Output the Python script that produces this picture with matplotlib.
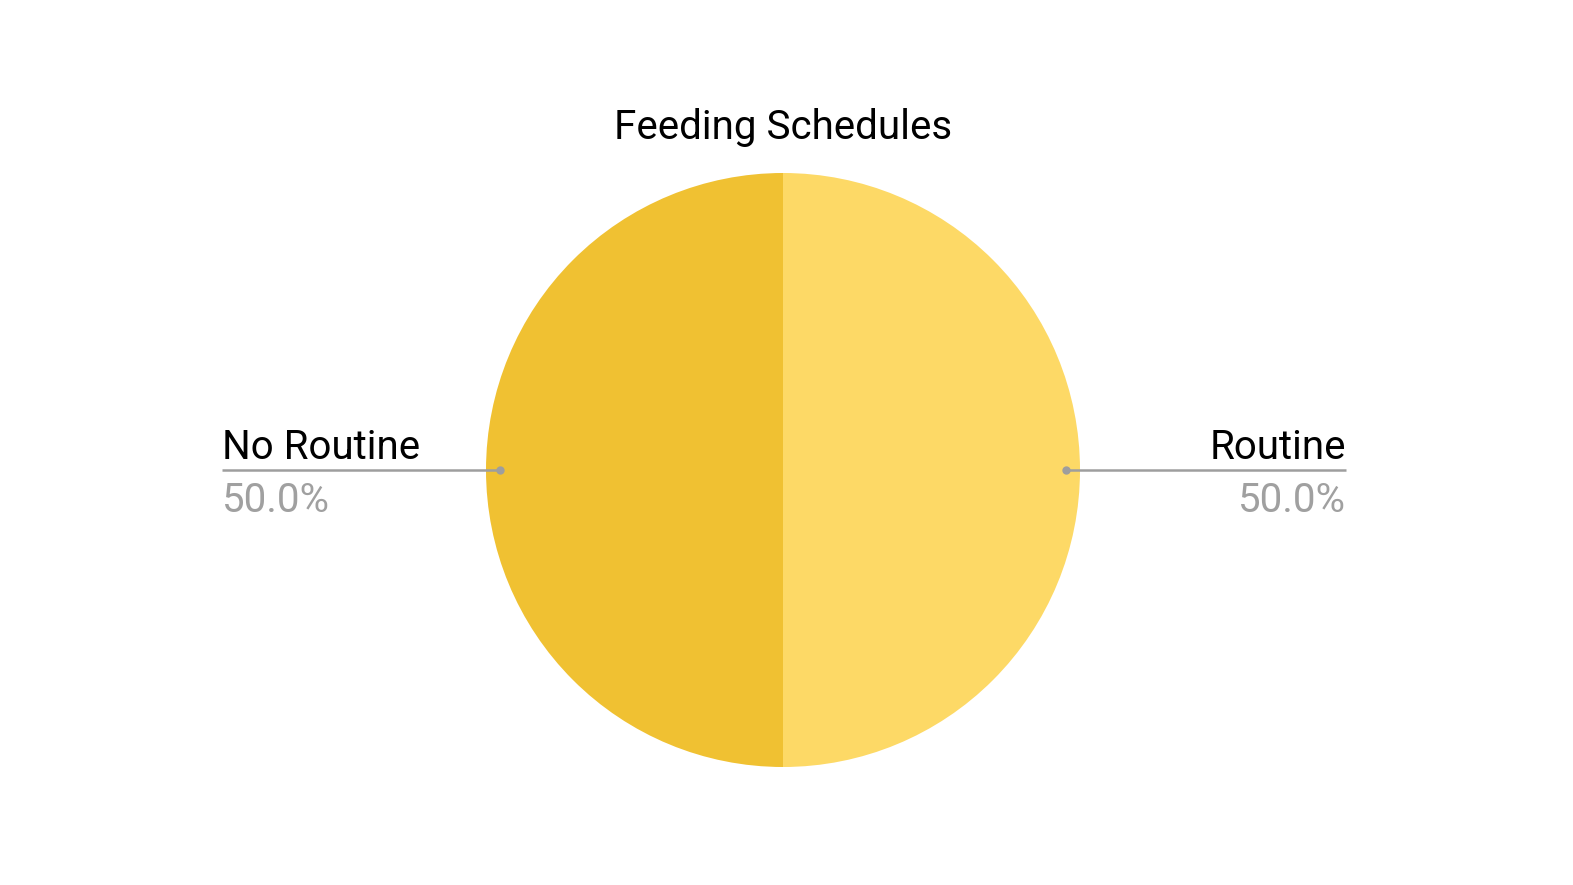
import matplotlib.pyplot as plt
import numpy as np

plt.rcParams['font.family'] = ['Roboto', 'DejaVu Sans']

# data
labels = ['Routine', 'No Routine']
values = [50, 50]
colors = ['#FDD966', '#F0C132']
title = 'Feeding Schedules'

W, H = 1573, 885
fig = plt.figure(figsize=(W / 100, H / 100), dpi=100)
ax = fig.add_axes([0, 0, 1, 1])
ax.set_xlim(0, W)
ax.set_ylim(0, H)
ax.set_aspect('equal')
ax.axis('off')

cx, cy, r = 783, H - 470, 297
wedges, _ = ax.pie(values, colors=colors, startangle=90, counterclock=False,
                   center=(cx, cy), radius=r, frame=True,
                   wedgeprops=dict(linewidth=0))
ax.set_xlim(0, W)
ax.set_ylim(0, H)
ax.axis('off')

total = sum(values)
line_x = {'right': 1346, 'left': 222}
for w, lab, v in zip(wedges, labels, values):
    ang = np.deg2rad((w.theta1 + w.theta2) / 2)
    px = cx + 0.952 * r * np.cos(ang)
    py = cy + 0.952 * r * np.sin(ang)
    side = 'right' if np.cos(ang) > 0 else 'left'
    ex = line_x[side]
    ax.plot([px, ex], [py, py], color='#9E9E9E', lw=1.8, solid_capstyle='butt')
    ax.plot(px, py, 'o', color='#9E9E9E', ms=5)
    ha = 'right' if side == 'right' else 'left'
    ax.text(ex, py + 11, lab, ha=ha, va='baseline', fontsize=29, color='#000000')
    ax.text(ex, py - 42, f'{v / total * 100:.1f}%', ha=ha, va='baseline',
            fontsize=29, color='#A0A0A0')

ax.text(cx, H - 139, title, ha='center', va='baseline', fontsize=29, color='#000000')

fig.savefig('out.png', dpi=100, facecolor='white')
